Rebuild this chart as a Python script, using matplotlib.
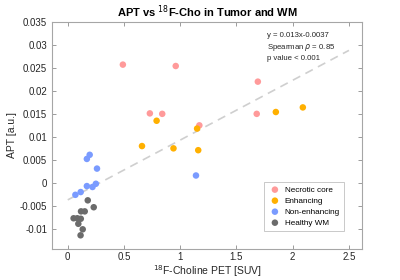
import numpy as np
import matplotlib
matplotlib.use('Agg')
import matplotlib.pyplot as plt

# values (x: 18F-Choline SUV, y: APT a.u.)
necrotic_x = [0.49, 0.96, 0.73, 0.84, 1.17, 1.69, 1.68]
necrotic_y = [0.0257, 0.0254, 0.0151, 0.0150, 0.0125, 0.0220, 0.0150]
enhancing_x = [0.79, 1.15, 1.85, 2.09, 0.66, 0.94, 1.16]
enhancing_y = [0.0135, 0.0118, 0.0154, 0.0164, 0.0080, 0.0075, 0.0071]
nonenh_x = [0.195, 0.17, 0.26, 1.14, 0.25, 0.22, 0.17, 0.115, 0.068]
nonenh_y = [0.0061, 0.0052, 0.0031, 0.0016, -0.0002, -0.0009, -0.0007, -0.0020, -0.0026]
healthy_x = [0.178, 0.231, 0.118, 0.151, 0.052, 0.085, 0.116, 0.094, 0.133, 0.114]
healthy_y = [-0.0038, -0.0053, -0.0062, -0.0062, -0.0077, -0.0077, -0.0078, -0.0089, -0.0101, -0.0114]

fit_slope = 0.013
fit_icpt = -0.0037
fit_range = [0.0, 2.5]

groups = [
    ('Necrotic core', necrotic_x, necrotic_y, '#ff9a9a'),
    ('Enhancing', enhancing_x, enhancing_y, '#ffb000'),
    ('Non-enhancing', nonenh_x, nonenh_y, '#7a9bff'),
    ('Healthy WM', healthy_x, healthy_y, '#6b6b6b'),
]

plt.rcParams['font.family'] = ['Liberation Sans', 'DejaVu Sans']
fig = plt.figure(figsize=(4.0, 2.8), dpi=100)
ax = fig.add_axes([0.13, 0.112, 0.775, 0.81])

xf = np.array(fit_range)
ax.plot(xf, fit_slope * xf + fit_icpt, '--', color='#cfcfcf', lw=1.2, dashes=(5, 3.5), zorder=1)

for label, x, y, c in groups:
    ax.scatter(x, y, s=22, color=c, edgecolors='none', label=label, zorder=2)

ax.set_xlim(-0.14, 2.616)
ax.set_ylim(-0.0143, 0.035)
ax.set_xticks([0, 0.5, 1, 1.5, 2, 2.5])
ax.set_xticklabels(['0', '0.5', '1', '1.5', '2', '2.5'])
ax.set_yticks([-0.01, -0.005, 0, 0.005, 0.01, 0.015, 0.02, 0.025, 0.03, 0.035])
ax.set_yticklabels(['-0.01', '-0.005', '0', '0.005', '0.01', '0.015', '0.02', '0.025', '0.03', '0.035'])
ax.tick_params(direction='in', top=True, right=True, labelsize=7, colors='#8c8c8c',
               labelcolor='#262626', length=3, width=0.6)
ax.tick_params(axis='x', pad=2.5)
for sp in ax.spines.values():
    sp.set_color('#a6a6a6')
    sp.set_linewidth(0.8)

ax.set_title('APT vs $^{18}$F-Cho in Tumor and WM', fontsize=8, fontweight='bold', pad=4)
ax.set_xlabel('$^{18}$F-Choline PET [SUV]', fontsize=7.5, color='#262626')
ax.set_ylabel('APT [a.u.]', fontsize=7.5, color='#262626')
ax.xaxis.set_label_coords(0.5, -0.063)
ax.yaxis.set_label_coords(-0.112, 0.5)

ax.text(1.77, 0.0327, 'y = 0.013x-0.0037\nSpearman $\\rho$ = 0.85\np value < 0.001',
        fontsize=5.6, va='top', ha='left', color='#262626', linespacing=1.4)

leg = ax.legend(loc='lower right', bbox_to_anchor=(0.955, 0.06), fontsize=5.9, frameon=True,
                fancybox=False, edgecolor='#b0b0b0', handletextpad=0.4, borderpad=0.5,
                labelspacing=0.4, scatterpoints=1, handlelength=1.6)
leg.get_frame().set_linewidth(0.6)

fig.savefig('out.png', dpi=100)
